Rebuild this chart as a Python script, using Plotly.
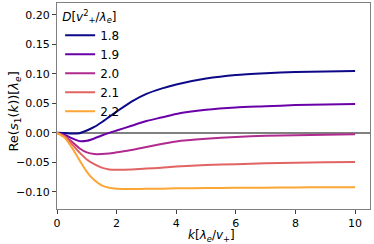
import plotly.graph_objects as go

k = [0, 0.25, 0.5, 0.75, 1.0, 1.25, 1.5, 1.75, 2.0, 2.5, 3.0, 3.5, 4.0, 5.0, 6.0, 7.0, 8.0, 9.0, 10.0]

d_labels = ["1.8", "1.9", "2.0", "2.1", "2.2"]
s_18 = [0, -0.0003, -0.001, -0.0005, 0.004, 0.010, 0.018, 0.027, 0.036, 0.053, 0.066, 0.075, 0.082, 0.092, 0.098, 0.101, 0.103, 0.104, 0.105]
s_19 = [0, -0.003, -0.009, -0.014, -0.0135, -0.0095, -0.0045, 0.0, 0.004, 0.012, 0.020, 0.026, 0.032, 0.039, 0.043, 0.045, 0.047, 0.048, 0.049]
s_20 = [0, -0.005, -0.015, -0.026, -0.033, -0.036, -0.036, -0.035, -0.033, -0.029, -0.024, -0.019, -0.0145, -0.010, -0.007, -0.005, -0.004, -0.003, -0.0025]
s_21 = [0, -0.006, -0.019, -0.033, -0.045, -0.053, -0.059, -0.062, -0.0625, -0.062, -0.0605, -0.059, -0.057, -0.0545, -0.053, -0.0515, -0.0505, -0.050, -0.0495]
s_22 = [0, -0.008, -0.025, -0.046, -0.066, -0.080, -0.089, -0.093, -0.0945, -0.095, -0.0948, -0.0945, -0.094, -0.0935, -0.093, -0.0928, -0.0925, -0.0922, -0.092]
series = [s_18, s_19, s_20, s_21, s_22]
colors = ["#0d0887", "#6a00a8", "#b12a90", "#e16462", "#fca636"]

x_ticks = [0, 2, 4, 6, 8, 10]
y_ticks = [-0.10, -0.05, 0.00, 0.05, 0.10, 0.15, 0.20]

x_title = "<i>k</i>[<i>λ</i><sub><i>e</i></sub>/<i>v</i><sub>+</sub>]"
y_title = "Re(<i>s</i><sub>1</sub>(<i>k</i>))[<i>λ</i><sub><i>e</i></sub>]"
legend_title = "<i>D</i>[<i>v</i><sup>2</sup><sub>+</sub>/<i>λ</i><sub><i>e</i></sub>]"

fig = go.Figure()
for lab, ys, c in zip(d_labels, series, colors):
    fig.add_trace(go.Scatter(x=k, y=ys, mode="lines", name=lab,
                             line=dict(color=c, width=2, shape="spline", smoothing=0.6)))

fig.update_layout(
    width=374, height=244,
    margin=dict(l=57, r=4, t=3, b=35, autoexpand=False),
    paper_bgcolor="white", plot_bgcolor="white",
    font=dict(family="DejaVu Sans", size=11, color="black"),
    showlegend=True,
    legend=dict(
        x=0.01, y=0.99, xanchor="left", yanchor="top",
        bgcolor="rgba(255,255,255,0)",
        title=dict(text=legend_title, font=dict(family="DejaVu Sans", size=12)),
        font=dict(family="DejaVu Sans", size=12),
        tracegroupgap=0, itemwidth=30,
    ),
    xaxis=dict(
        range=[0, 10.5], tickvals=x_ticks, ticktext=[str(v) for v in x_ticks],
        showgrid=False, zeroline=False, showline=True, mirror=True, automargin=False,
        linecolor="#808080", linewidth=1, ticks="outside", ticklen=4, tickcolor="#404040",
        tickfont=dict(family="DejaVu Sans", size=11),
    ),
    yaxis=dict(
        range=[-0.129, 0.22], tickvals=y_ticks, tickformat=".2f",
        showgrid=False, zeroline=True, zerolinecolor="#808080", zerolinewidth=2,
        showline=True, mirror=True, automargin=False,
        linecolor="#808080", linewidth=1, ticks="outside", ticklen=4, tickcolor="#404040",
        tickfont=dict(family="DejaVu Sans", size=11),
    ),
    annotations=[
        dict(text=x_title, xref="paper", yref="paper", x=0.495, y=-0.133,
             xanchor="center", yanchor="middle", showarrow=False, borderpad=0,
             font=dict(family="DejaVu Sans", size=12)),
        dict(text=y_title, xref="paper", yref="paper", x=-0.136, y=0.475,
             xanchor="center", yanchor="middle", showarrow=False, textangle=-90,
             borderpad=0, font=dict(family="DejaVu Sans", size=13)),
    ],
)

fig.write_html("out.html", config={"displayModeBar": False},
               post_script="document.body.style.margin='0';")
